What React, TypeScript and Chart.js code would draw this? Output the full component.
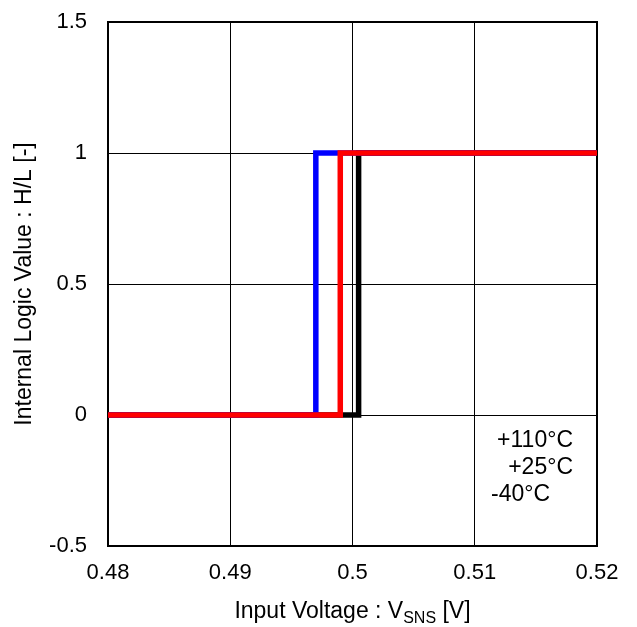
import React, { useEffect, useRef } from "react";
import { Chart, registerables } from "chart.js";

Chart.register(...registerables);

// Switching thresholds (V)
const seriesLabels = ["+25°C", "+110°C", "-40°C"];
const seriesColors = ["#ff0000", "#0000ff", "#000000"];
const thresholdRed = [0.48, 0.499, 0.499, 0.52];
const thresholdBlue = [0.48, 0.497, 0.497, 0.52];
const thresholdBlack = [0.48, 0.5005, 0.5005, 0.52];
const logicValues = [0, 0, 1, 1];
const legendLabels = ["+110°C", "+25°C", "-40°C"];

const xTicks = [0.48, 0.49, 0.5, 0.51, 0.52];
const yTicks = [-0.5, 0, 0.5, 1, 1.5];

const FONT = '"Liberation Sans", Arial, Helvetica, sans-serif';

function toPoints(xs: number[], ys: number[]) {
  return xs.map((x, i) => ({ x, y: ys[i] }));
}

const annotations = {
  id: "annotations",
  beforeDatasetsDraw(chart: any) {
    const { ctx, chartArea } = chart;
    ctx.save();
    ctx.strokeStyle = "#000";
    ctx.lineWidth = 2;
    ctx.strokeRect(chartArea.left, chartArea.top, chartArea.right - chartArea.left, chartArea.bottom - chartArea.top);
    ctx.restore();
  },
  afterDraw(chart: any) {
    const { ctx, chartArea } = chart;
    ctx.save();
    ctx.fillStyle = "#000";
    // y title
    ctx.font = `23px ${FONT}`;
    ctx.textAlign = "center";
    ctx.textBaseline = "middle";
    ctx.translate(25, (chartArea.top + chartArea.bottom) / 2);
    ctx.rotate(-Math.PI / 2);
    ctx.fillText("Internal Logic Value : H/L [-]", 0, 0);
    ctx.restore();

    // x title with subscript
    ctx.save();
    ctx.fillStyle = "#000";
    ctx.textBaseline = "alphabetic";
    ctx.textAlign = "left";
    const main1 = "Input Voltage : V";
    const sub = "SNS";
    const main2 = " [V]";
    ctx.font = `23px ${FONT}`;
    const w1 = ctx.measureText(main1).width;
    const w3 = ctx.measureText(main2).width;
    ctx.font = `16px ${FONT}`;
    const w2 = ctx.measureText(sub).width;
    const total = w1 + w2 + w3;
    let x = (chartArea.left + chartArea.right) / 2 - total / 2;
    const base = 618;
    ctx.font = `23px ${FONT}`;
    ctx.fillText(main1, x, base);
    x += w1;
    ctx.font = `16px ${FONT}`;
    ctx.fillText(sub, x, base + 5);
    x += w2;
    ctx.font = `23px ${FONT}`;
    ctx.fillText(main2, x, base);
    ctx.restore();

    // legend text
    ctx.save();
    ctx.fillStyle = "#000";
    ctx.font = `23px ${FONT}`;
    ctx.textBaseline = "alphabetic";
    ctx.textAlign = "right";
    ctx.fillText(legendLabels[0], 573, 447);
    ctx.fillText(legendLabels[1], 573, 474);
    ctx.textAlign = "left";
    ctx.fillText(legendLabels[2], 491, 501);
    ctx.restore();
  },
};

export default function App() {
  const ref = useRef<HTMLCanvasElement>(null);
  useEffect(() => {
    document.body.style.margin = "0";
    const datasets = [
      { label: seriesLabels[0], data: toPoints(thresholdRed, logicValues), borderColor: seriesColors[0] },
      { label: seriesLabels[1], data: toPoints(thresholdBlue, logicValues), borderColor: seriesColors[1] },
      { label: seriesLabels[2], data: toPoints(thresholdBlack, logicValues), borderColor: seriesColors[2] },
    ].map((d) => ({
      ...d,
      backgroundColor: d.borderColor,
      borderWidth: 5.5,
      pointRadius: 0,
      tension: 0,
      fill: false,
    }));
    const chart = new Chart(ref.current!, {
      type: "line",
      data: { datasets },
      options: {
        animation: false,
        responsive: false,
        layout: { padding: { left: 0, top: 22, right: 40, bottom: 0 } },
        plugins: { legend: { display: false }, tooltip: { enabled: false } },
        scales: {
          x: {
            type: "linear",
            min: xTicks[0],
            max: xTicks[xTicks.length - 1],
            afterFit: (s: any) => { s.height = 81; s.paddingLeft = 0; s.paddingRight = 0; },
            afterBuildTicks: (s: any) => { s.ticks = xTicks.map((v) => ({ value: v })); },
            ticks: {
              color: "#000",
              font: { family: FONT, size: 22 },
              padding: 14,
              maxRotation: 0,
              callback: (v: any) => String(Number(Number(v).toFixed(3))),
            },
            grid: { color: "#000", lineWidth: 1, drawTicks: false },
            border: { display: false },
          },
          y: {
            type: "linear",
            min: yTicks[0],
            max: yTicks[yTicks.length - 1],
            afterFit: (s: any) => { s.width = 108; s.paddingTop = 0; s.paddingBottom = 0; },
            afterBuildTicks: (s: any) => { s.ticks = yTicks.map((v) => ({ value: v })); },
            ticks: {
              color: "#000",
              font: { family: FONT, size: 22 },
              padding: 21,
              callback: (v: any) => String(Number(Number(v).toFixed(2))),
            },
            grid: { color: "#000", lineWidth: 1, drawTicks: false },
            border: { display: false },
          },
        },
      },
      plugins: [annotations],
    });
    return () => chart.destroy();
  }, []);
  return (
    <div style={{ position: "absolute", left: 0, top: 0, width: 637, height: 627 }}>
      <canvas ref={ref} width={637} height={627} style={{ display: "block" }} />
    </div>
  );
}
